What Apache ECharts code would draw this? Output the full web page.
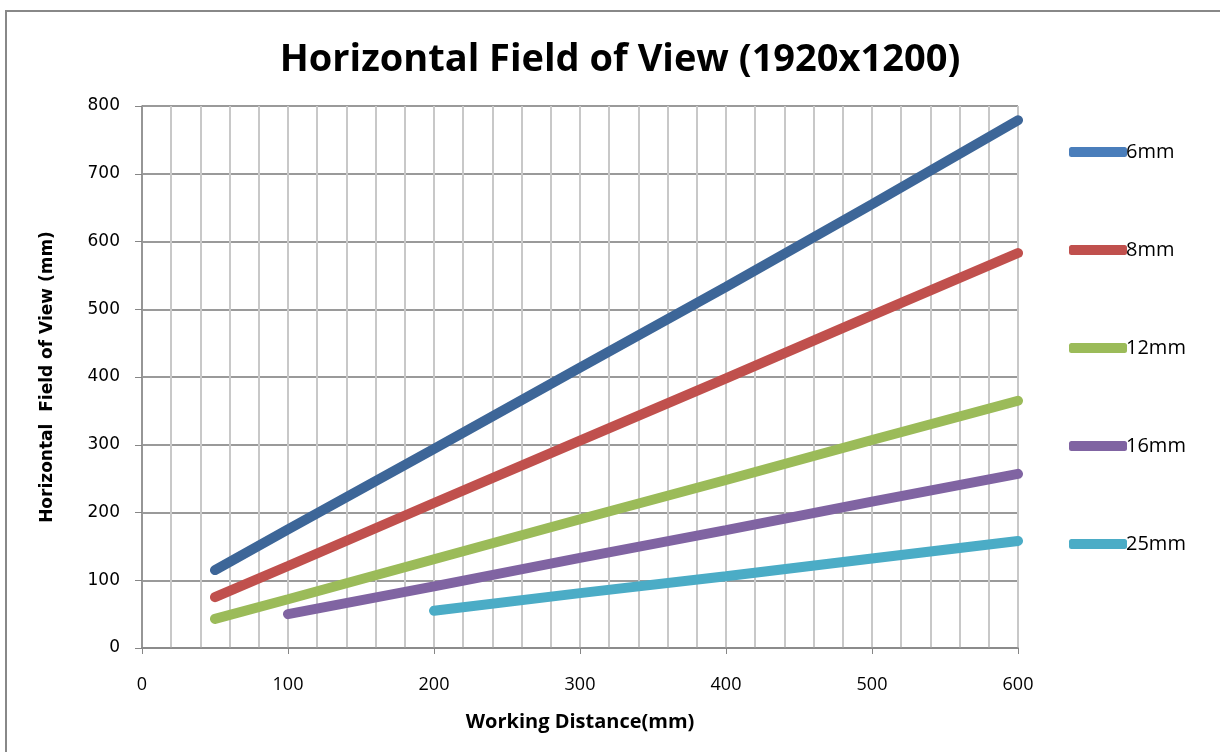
<!DOCTYPE html>
<html>
<head>
<meta charset="utf-8">
<script src="https://cdn.jsdelivr.net/npm/echarts@6/dist/echarts.min.js"></script>
<style>
  html, body { margin: 0; padding: 0; background: #fff; }
  #main { width: 1220px; height: 752px; }
</style>
</head>
<body>
<div id="main"></div>
<script>
// working distance (mm) -> horizontal FOV (mm)
var lens6 = [[50, 115], [100, 175], [200, 294], [300, 414], [400, 533], [500, 655], [600, 779]];
var lens8 = [[50, 75], [100, 121], [200, 214], [300, 306], [400, 398], [500, 491], [600, 583]];
var lens12 = [[50, 43], [100, 72], [200, 131], [300, 190], [400, 248], [500, 307], [600, 365]];
var lens16 = [[100, 50], [200, 91], [300, 133], [400, 174], [500, 216], [600, 257]];
var lens25 = [[200, 55], [300, 81], [400, 106], [500, 132], [600, 158]];

var names = ['6mm', '8mm', '12mm', '16mm', '25mm'];
var colors = ['#3d6698', '#c0504d', '#9bbb59', '#8064a2', '#4bacc6'];
var legendColors = ['#4a7ebb', '#c0504d', '#9bbb59', '#8064a2', '#4bacc6'];
var allData = [lens6, lens8, lens12, lens16, lens25];

var chart = echarts.init(document.getElementById('main'));

var series = allData.map(function (d, i) {
    return {
        name: names[i],
        type: 'line',
        data: d,
        symbol: 'none',
        color: legendColors[i],
        lineStyle: { width: 10, color: colors[i], cap: 'round' },
        animation: false
    };
});

var option = {
    backgroundColor: '#fff',
    title: {
        text: 'Horizontal Field of View (1920x1200)',
        left: 615,
        textAlign: 'center',
        top: 36,
        textStyle: { fontFamily: 'Open Sans', fontSize: 38, fontWeight: 'bold', color: '#000' }
    },
    graphic: [{
        type: 'rect',
        shape: { x: 6, y: 11, width: 1300, height: 800 },
        style: { fill: 'none', stroke: '#888', lineWidth: 2 },
        z: -1
    }],
    legend: {
        orient: 'vertical',
        left: 1064,
        top: 137,
        itemWidth: 58,
        itemHeight: 10,
        itemGap: 78,
        icon: 'roundRect',
        data: names,
        textStyle: { fontFamily: 'Open Sans', fontSize: 20, color: '#000', padding: [0, 0, 0, -6] }
    },
    grid: { left: 142, right: 202, top: 106, bottom: 104 },
    xAxis: {
        type: 'value',
        min: 0,
        max: 600,
        interval: 100,
        name: 'Working Distance(mm)',
        nameLocation: 'middle',
        nameGap: 64,
        nameTextStyle: { fontFamily: 'Open Sans', fontSize: 20, fontWeight: 'bold', color: '#000' },
        axisLine: { lineStyle: { color: '#868686', width: 1.5 } },
        axisTick: { show: true, length: 6, lineStyle: { color: '#868686' } },
        axisLabel: { fontFamily: 'Open Sans', fontSize: 18, color: '#000', margin: 28 },
        splitLine: { show: true, lineStyle: { color: '#c8c8c8', width: 2 } },
        minorTick: { show: false, splitNumber: 5 },
        minorSplitLine: { show: true, lineStyle: { color: '#c8c8c8', width: 2 } }
    },
    yAxis: {
        type: 'value',
        min: 0,
        max: 800,
        interval: 100,
        name: 'Horizontal  Field of View (mm)',
        nameLocation: 'middle',
        nameGap: 86,
        nameTextStyle: { fontFamily: 'DejaVu Sans', fontSize: 17, fontWeight: 'bold', color: '#000' },
        axisLine: { show: true, lineStyle: { color: '#868686', width: 1.5 } },
        axisTick: { show: true, length: 7, lineStyle: { color: '#868686' } },
        axisLabel: { fontFamily: 'DejaVu Sans', fontSize: 17, color: '#000', margin: 22 },
        splitLine: { show: true, lineStyle: { color: '#9a9a9a', width: 2 } }
    },
    series: series
};

chart.setOption(option);
</script>
</body>
</html>
